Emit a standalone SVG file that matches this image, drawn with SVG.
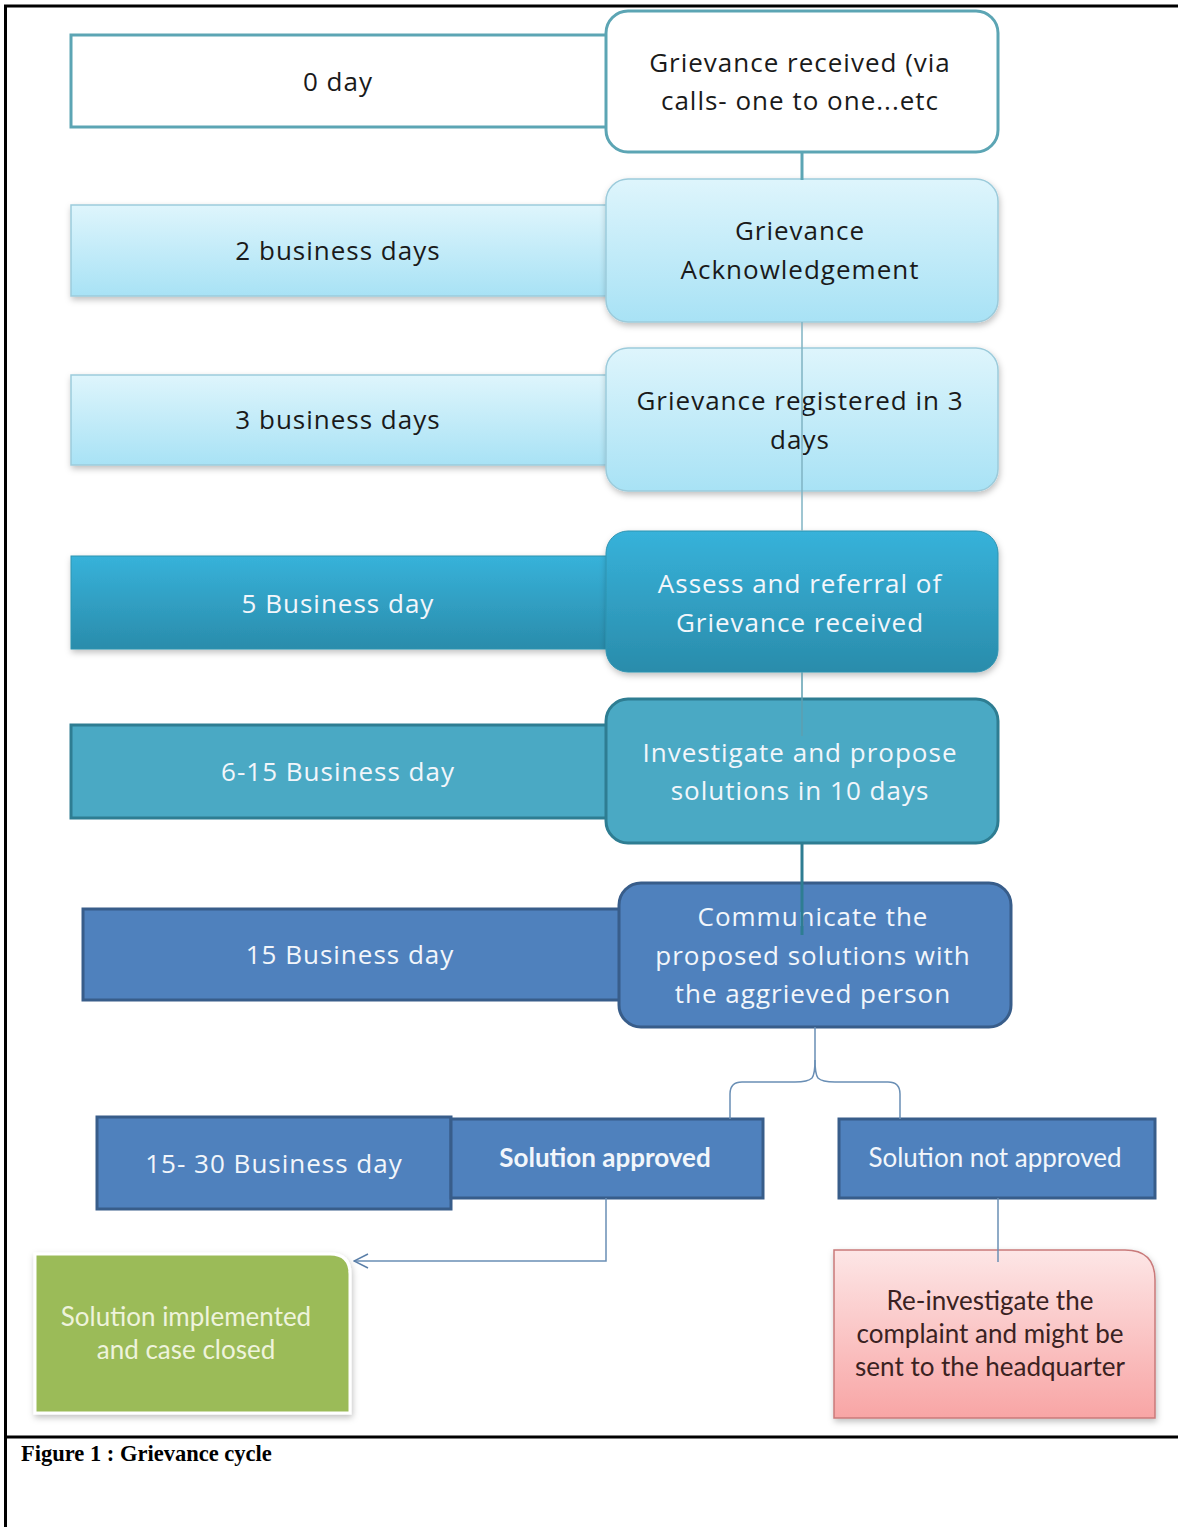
<svg xmlns="http://www.w3.org/2000/svg" width="1178" height="1527" viewBox="0 0 1178 1527">
<defs>
<linearGradient id="gLight" x1="0" y1="0" x2="0" y2="1"><stop offset="0" stop-color="#def5fc"/><stop offset="1" stop-color="#a8e2f5"/></linearGradient>
<linearGradient id="gMid" x1="0" y1="0" x2="0" y2="1"><stop offset="0" stop-color="#37b2da"/><stop offset="1" stop-color="#2a8cab"/></linearGradient>
<linearGradient id="gPink" x1="0" y1="0" x2="0" y2="1"><stop offset="0" stop-color="#fde6e6"/><stop offset="1" stop-color="#f8a5a5"/></linearGradient>
<filter id="sh" x="-5%" y="-5%" width="112%" height="120%"><feDropShadow dx="1" dy="3" stdDeviation="3" flood-color="#000" flood-opacity="0.25"/></filter>
<marker id="openArrow" markerWidth="16" markerHeight="16" refX="15" refY="8" orient="auto" markerUnits="userSpaceOnUse"><path d="M1,1 L15,8 L1,15" fill="none" stroke="#5a7fa8" stroke-width="1.5"/></marker>
<style>
.t{font-family:"Open Sans","DejaVu Sans",sans-serif;font-size:26px;letter-spacing:1px;text-anchor:middle}
.l{font-family:Lato,"Open Sans",sans-serif;font-size:26px;text-anchor:middle}
.dark{fill:#1a1a1a}
.wh{fill:#f2f6fb}
.white{fill:#ffffff;stroke:#5ca5b4;stroke-width:3}
.light{fill:url(#gLight);stroke:#9ccbdb;stroke-width:1.5}
.mid{fill:url(#gMid);stroke:#2f93b0;stroke-width:1}
.teal{fill:#4aa9c4;stroke:#2e7d92;stroke-width:3}
.blue{fill:#4f81bd;stroke:#385d8a;stroke-width:3}
.conn{fill:none;stroke:#6a8fb5;stroke-width:1.5}
</style>
</defs>
<rect width="1178" height="1527" fill="#ffffff"/>
<g id="frame" stroke="#000" stroke-width="3" fill="none">
<line x1="4" y1="6" x2="1178" y2="6"/>
<line x1="5.5" y1="6" x2="5.5" y2="1527"/>
<line x1="4" y1="1437" x2="1178" y2="1437"/>
</g>

<g id="row1">
<rect class="white" x="71" y="35" width="540" height="92"/>
<text class="t dark" x="338" y="91">0 day</text>
</g>
<g id="n1">
<rect class="white" x="606" y="11" width="392" height="141" rx="22"/>
<text class="t dark" x="800" y="72">Grievance received (via</text>
<text class="t dark" x="800" y="110">calls- one to one...etc</text>
</g>

<g id="row2">
<rect class="light" x="71" y="205" width="540" height="91" filter="url(#sh)"/>
<text class="t dark" x="338" y="260">2 business days</text>
</g>
<g id="n2">
<rect class="light" x="606" y="179" width="392" height="143" rx="22" filter="url(#sh)"/>
<text class="t dark" x="800" y="240">Grievance</text>
<text class="t dark" x="800" y="279">Acknowledgement</text>
</g>

<g id="row3">
<rect class="light" x="71" y="375" width="540" height="90" filter="url(#sh)"/>
<text class="t dark" x="338" y="429">3 business days</text>
</g>
<g id="n3">
<rect class="light" x="606" y="348" width="392" height="143" rx="22" filter="url(#sh)"/>
<text class="t dark" x="800" y="410">Grievance registered in 3</text>
<text class="t dark" x="800" y="449">days</text>
</g>

<g id="row4">
<rect class="mid" x="71" y="556" width="540" height="93" filter="url(#sh)"/>
<text class="t wh" x="338" y="613">5  Business day</text>
</g>
<g id="n4">
<rect class="mid" x="606" y="531" width="392" height="141" rx="22" filter="url(#sh)"/>
<text class="t wh" x="800" y="593">Assess and referral of</text>
<text class="t wh" x="800" y="632">Grievance received</text>
</g>

<g id="row5">
<rect class="teal" x="71" y="725" width="540" height="93"/>
<text class="t wh" x="338" y="781">6-15 Business day</text>
</g>
<g id="n5">
<rect class="teal" x="606" y="699" width="392" height="144" rx="22"/>
<text class="t wh" x="800" y="762">Investigate and propose</text>
<text class="t wh" x="800" y="800">solutions in 10 days</text>
</g>

<g id="row6">
<rect class="blue" x="83" y="909" width="540" height="91"/>
<text class="t wh" x="350" y="964">15  Business day</text>
</g>
<g id="n6">
<rect class="blue" x="619" y="883" width="392" height="144" rx="22"/>
<text class="t wh" x="813" y="926">Communicate the</text>
<text class="t wh" x="813" y="965">proposed solutions with</text>
<text class="t wh" x="813" y="1003">the aggrieved person</text>
</g>

<g id="row7">
<rect class="blue" x="97" y="1117" width="354" height="92"/>
<text class="t wh" x="274" y="1173">15- 30 Business day</text>
</g>
<g id="approved">
<rect class="blue" x="451" y="1119" width="312" height="79"/>
<text class="l wh" x="605" y="1167" font-weight="bold">Solution approved</text>
</g>
<g id="notApproved">
<rect class="blue" x="839" y="1119" width="316" height="79"/>
<text class="l wh" x="995" y="1167">Solution not approved</text>
</g>

<g id="closed">
<path d="M35,1254 H330 Q350,1254 350,1274 V1413 H35 Z" fill="#9bbb59" stroke="#ffffff" stroke-width="3" filter="url(#sh)"/>
<text class="l" fill="#eef3dc" x="186" y="1326">Solution implemented</text>
<text class="l" fill="#eef3dc" x="186" y="1359">and case closed</text>
</g>
<g id="reinvestigate">
<path d="M834,1250 H1125 Q1155,1250 1155,1280 V1418 H834 Z" fill="url(#gPink)" stroke="#c97a7a" stroke-width="1.5" filter="url(#sh)"/>
<text class="l" fill="#3a2222" x="990" y="1310">Re-investigate the</text>
<text class="l" fill="#3a2222" x="990" y="1343">complaint and might be</text>
<text class="l" fill="#3a2222" x="990" y="1376">sent to the headquarter</text>
</g>

<g id="connectors">
<line x1="802" y1="152" x2="802" y2="180" stroke="#5ca5b4" stroke-width="3"/>
<line x1="802" y1="322" x2="802" y2="531" stroke="#7fb3c3" stroke-width="1.5"/>
<line x1="802" y1="672" x2="802" y2="736" stroke="#5e9fb0" stroke-width="1.5"/>
<line x1="802" y1="843" x2="802" y2="935" stroke="#2e7d92" stroke-width="3"/>
<path class="conn" d="M815,1027 V1060 Q815,1074 812,1078 Q808,1082 795,1082 H742 Q730,1082 730,1094 V1119"/>
<path class="conn" d="M815,1060 Q815,1074 818,1078 Q822,1082 835,1082 H888 Q900,1082 900,1094 V1119"/>
<path class="conn" d="M606,1198 V1261 H354" marker-end="url(#openArrow)"/>
<line class="conn" x1="998" y1="1198" x2="998" y2="1262"/>
</g>

<text x="21" y="1461" font-family="'Liberation Serif',serif" font-weight="bold" font-size="22.5" fill="#000">Figure 1 : Grievance cycle</text>
</svg>
